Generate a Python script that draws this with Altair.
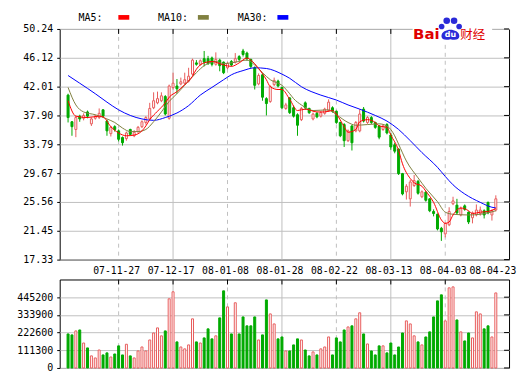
import altair as alt
import pandas as pd

# ---------------- data ----------------
opens = [40.8, 37.0, 35.9, 37.8, 37.5, 38.4, 36.7, 37.5, 37.6, 38.7,
         37.1, 35.3, 36.3, 35.7, 34.75, 34.6, 35.9, 35.0, 35.6, 36.3,
         36.9, 37.4, 39.0, 39.7, 40.0, 40.6, 37.5, 41.9, 42.1, 42.4,
         42.5, 42.8, 43.8, 45.4, 45.2, 46.0, 46.0, 46.1, 45.2, 45.8,
         45.5, 44.7, 45.6, 45.5, 46.3, 47.1, 46.8, 45.9, 44.7, 42.4,
         43.7, 40.3, 39.9, 42.3, 42.8, 41.9, 38.9, 40.4, 39.0, 38.0,
         37.3, 39.7, 38.9, 37.4, 38.2, 37.8, 38.2, 38.6, 39.0, 38.5,
         36.9, 36.6, 34.3, 36.4, 35.7, 35.7, 38.8, 36.9, 37.6, 36.9,
         36.4, 35.9, 36.6, 35.1, 33.7, 33.1, 29.6, 27.0, 26.0, 27.9,
         28.5, 26.3, 26.95, 26.0, 24.2, 23.8, 21.8, 21.0, 22.3, 25.3,
         25.1, 23.7, 25.0, 24.1, 23.3, 23.7, 23.9, 24.3, 25.5, 23.7,
         24.4]
highs = [41.0, 37.1, 37.8, 38.0, 38.2, 38.6, 37.6, 38.0, 38.9, 38.8,
         37.3, 36.4, 36.5, 35.9, 34.9, 35.6, 36.0, 35.8, 36.4, 37.2,
         37.8, 39.7, 41.2, 41.3, 41.2, 40.8, 42.3, 44.0, 43.1, 43.3,
         44.0, 44.7, 46.0, 45.8, 45.9, 47.1, 46.4, 46.3, 46.9, 46.0,
         45.6, 45.5, 45.8, 46.8, 46.5, 47.4, 47.0, 46.0, 44.9, 43.9,
         43.9, 40.5, 42.2, 43.3, 43.0, 42.0, 39.7, 40.5, 39.3, 38.2,
         39.1, 39.9, 39.0, 38.3, 38.4, 38.5, 39.0, 40.2, 39.2, 38.6,
         37.0, 36.8, 35.9, 36.5, 37.1, 38.8, 39.1, 37.8, 37.8, 37.0,
         36.5, 36.6, 36.8, 35.4, 34.0, 33.2, 29.7, 28.1, 28.7, 29.4,
         28.7, 27.2, 27.1, 26.1, 24.5, 23.9, 22.0, 22.6, 24.8, 26.3,
         26.0, 24.9, 25.2, 24.2, 24.2, 25.2, 24.9, 24.5, 25.6, 24.5,
         26.5]
lows = [36.9, 35.0, 34.8, 37.0, 37.2, 37.5, 36.4, 37.3, 37.4, 37.6,
        35.0, 34.9, 35.6, 34.2, 33.6, 34.3, 35.0, 34.8, 35.4, 36.1,
        36.6, 37.3, 38.8, 39.5, 39.8, 37.9, 37.3, 41.6, 41.0, 42.2,
        42.3, 42.6, 43.6, 45.0, 45.0, 44.9, 45.1, 44.9, 45.0, 44.2,
        43.8, 44.5, 44.9, 45.3, 45.6, 46.3, 45.7, 44.6, 41.6, 42.2,
        40.0, 37.9, 39.7, 42.1, 41.9, 38.8, 38.7, 38.1, 37.6, 35.0,
        37.1, 38.7, 38.1, 37.2, 37.5, 37.6, 38.0, 38.4, 38.3, 36.7,
        34.8, 33.4, 34.1, 32.9, 35.5, 35.5, 36.9, 36.7, 36.7, 36.0,
        34.5, 35.7, 35.2, 33.0, 32.5, 29.4, 26.5, 25.9, 24.9, 27.7,
        26.6, 26.1, 25.6, 24.1, 23.5, 21.5, 20.0, 20.5, 22.1, 25.1,
        23.8, 23.5, 24.3, 22.4, 22.5, 23.5, 23.6, 23.2, 23.8, 22.9,
        24.2]
closes = [37.6, 36.3, 37.6, 37.4, 37.9, 37.8, 37.4, 37.8, 38.2, 37.8,
          35.7, 36.2, 35.9, 34.5, 34.0, 35.4, 35.2, 35.5, 36.2, 37.0,
          37.6, 38.9, 40.0, 40.3, 40.7, 38.1, 42.1, 42.5, 41.7, 42.7,
          43.0, 43.5, 45.8, 45.2, 45.7, 45.5, 45.3, 45.2, 45.9, 45.0,
          44.0, 45.3, 45.1, 46.0, 45.9, 46.6, 46.0, 44.9, 42.2, 43.6,
          40.5, 39.6, 42.0, 42.9, 42.1, 39.0, 39.4, 38.3, 37.8, 36.5,
          38.9, 39.0, 38.3, 38.1, 37.7, 38.3, 38.8, 39.8, 38.5, 36.9,
          35.0, 34.3, 35.7, 34.0, 36.9, 38.1, 37.1, 37.6, 36.9, 36.2,
          34.8, 36.4, 35.4, 33.4, 32.8, 29.6, 26.7, 27.8, 28.4, 28.6,
          26.8, 27.0, 25.8, 24.3, 23.9, 21.7, 21.3, 22.5, 24.2, 25.7,
          24.0, 24.6, 24.5, 22.7, 24.0, 24.4, 24.4, 23.7, 24.0, 24.3,
          26.0]
volumes = [214000, 208000, 233000, 239000, 157000, 126000, 76000, 63000, 113000, 82000,
           95000, 69000, 88000, 139000, 82000, 149000, 76000, 63000, 107000, 132000,
           107000, 176000, 220000, 252000, 202000, 233000, 435000, 479000, 164000, 132000,
           120000, 145000, 309000, 164000, 157000, 189000, 246000, 183000, 202000, 315000,
           485000, 384000, 214000, 410000, 214000, 321000, 265000, 265000, 321000, 176000,
           208000, 428000, 340000, 277000, 183000, 195000, 107000, 107000, 145000, 183000,
           176000, 113000, 76000, 101000, 82000, 120000, 132000, 195000, 82000, 189000,
           164000, 239000, 258000, 265000, 309000, 347000, 214000, 151000, 107000, 82000,
           139000, 139000, 95000, 157000, 82000, 132000, 220000, 296000, 277000, 202000,
           164000, 145000, 195000, 227000, 321000, 422000, 460000, 296000, 504000, 510000,
           302000, 227000, 170000, 220000, 189000, 353000, 340000, 246000, 265000, 195000,
           472000]

ma5_idx = [0, 2, 5, 8, 9, 11, 13, 15, 17, 19, 20, 21, 23, 25, 26, 28, 30, 32, 33, 35,
           37, 40, 42, 44, 46, 47, 49, 51, 52, 54, 55, 57, 59, 61, 64, 66, 68, 69, 71, 72,
           74, 75, 77, 79, 80, 82, 83, 85, 86, 88, 89, 91, 92, 94, 96, 97, 98, 99, 101, 103,
           104, 106, 108, 110]
ma5_val = [40.0, 37.8, 37.6, 37.8, 37.7, 36.3, 35.4, 35.0, 35.1, 35.7, 36.4, 37.3, 38.5, 39.7, 40.5,
           41.3, 42.3, 43.5, 44.5, 45.4, 45.6, 45.1, 44.9, 45.4, 46.1, 45.8, 44.6, 43.0, 42.0, 41.6,
           41.6, 40.2, 38.6, 38.8, 38.4, 38.4, 38.6, 38.1, 36.3, 35.5, 35.9, 37.0, 37.3, 36.9, 36.4,
           36.2, 35.1, 32.9, 31.0, 28.9, 28.3, 27.8, 27.1, 25.5, 23.0, 22.5, 22.7, 23.7, 24.7, 24.3,
           23.9, 24.1, 24.2, 24.6]
ma10_idx = [0, 2, 4, 7, 10, 12, 14, 16, 18, 20, 22, 24, 26, 28, 30, 33, 35, 38, 40, 43,
            46, 48, 50, 52, 55, 57, 58, 60, 63, 67, 69, 72, 74, 77, 80, 82, 84, 85, 87, 90,
            92, 95, 97, 99, 103, 106, 110]
ma10_val = [41.9, 39.4, 38.4, 38.0, 37.4, 36.9, 36.1, 35.6, 35.6, 35.9, 37.0, 38.4, 39.9, 41.0, 42.2,
            44.0, 45.0, 45.6, 45.3, 45.5, 45.8, 45.1, 44.0, 43.0, 42.2, 41.0, 40.3, 39.4, 38.6, 38.7,
            38.0, 36.9, 36.5, 36.6, 36.7, 36.4, 35.0, 33.8, 31.4, 29.0, 27.5, 25.6, 24.1, 23.8, 23.7,
            23.8, 24.3]
ma30_idx = [0, 3, 7, 10, 13, 16, 19, 22, 25, 28, 31, 34, 37, 40, 42, 45, 48, 51, 55, 57,
            60, 65, 69, 72, 75, 79, 82, 85, 88, 91, 95, 97, 99, 102, 106, 109, 110]
ma30_val = [43.6, 42.5, 41.0, 39.8, 38.7, 37.9, 37.4, 37.2, 37.6, 38.25, 39.3, 40.8, 41.9, 43.0, 43.7,
            44.3, 44.7, 44.6, 43.8, 43.2, 42.0, 40.8, 40.1, 39.4, 38.8, 37.9, 37.1, 35.9, 34.3, 32.6,
            30.5, 29.2, 28.0, 26.7, 25.5, 24.8, 24.7]

date_idx = [13, 27, 41, 55, 69, 83, 97, 110]
date_labels = ["07-11-27", "07-12-17", "08-01-08", "08-01-28",
               "08-02-22", "08-03-13", "08-04-03", "08-04-23"]
dashed_grid_idx = [13, 41, 69, 97]
solid_grid_idx = [27, 55, 83]
price_ticks = [17.33, 21.45, 25.56, 29.67, 33.79, 37.90, 42.01, 46.12, 50.24]
volume_ticks = [0, 111300, 222600, 333900, 445200]
legend_names = ["MA5:", "MA10:", "MA30:"]

# ---------------- styles ----------------
UP = "#e85c5c"
DOWN = "#00aa00"
GRID = "#c0c0c0"
MONO = "DejaVu Sans Mono"
MA_COLORS = ["#ff0000", "#808040", "#0000ff"]
LOGO_RED = "#e00000"
LOGO_BLUE = "#2a2ad8"

n = len(closes)
df = pd.DataFrame({"i": list(range(n)), "open": opens, "high": highs,
                   "low": lows, "close": closes, "volume": volumes})
df["dir"] = ["up" if c >= o else "down" for o, c in zip(opens, closes)]

label_map = "{" + ",".join(f"'{i}':'{l}'" for i, l in zip(date_idx, date_labels)) + "}"

xscale = alt.Scale(domain=[-0.875, 112.125], nice=False, zero=False)
x_axis = alt.Axis(values=date_idx, labelExpr=label_map + "[datum.value]", grid=False,
                  ticks=False, domain=False, labelPadding=6, labelOverlap=False,
                  labelFlush=False, title=None, labelFontSize=9.8,
                  labelOffset={"condition": {"test": "datum.value == 110", "value": -3.5},
                               "value": -2.5})
XP = alt.X("i:Q", scale=xscale, axis=x_axis)
XV = alt.X("i:Q", scale=xscale, axis=None)

pscale = alt.Scale(domain=[17.33, 50.24], nice=False, zero=False)
p_axis = alt.Axis(values=price_ticks, format=".2f", grid=True, gridColor=GRID,
                  tickSize=3, tickColor="black", domain=False, labelPadding=4, title=None)


def YP(field):
    return alt.Y(f"{field}:Q", scale=pscale, axis=p_axis)


vscale = alt.Scale(domain=[0, 556500], nice=False, zero=True)
v_axis = alt.Axis(values=volume_ticks, format="d", grid=True, gridColor=GRID,
                  tickSize=3, tickColor="black", domain=False, labelPadding=4, title=None)
YV = alt.Y("volume:Q", scale=vscale, axis=v_axis)

stroke_dir = alt.Stroke("dir:N", scale=alt.Scale(domain=["up", "down"], range=[UP, DOWN]), legend=None)
fill_dir = alt.Fill("dir:N", scale=alt.Scale(domain=["up", "down"], range=["white", DOWN]), legend=None)

grid_d = pd.DataFrame({"i": dashed_grid_idx})
grid_s = pd.DataFrame({"i": solid_grid_idx})
grid_all = pd.DataFrame({"i": dashed_grid_idx + solid_grid_idx})


def grid_layers(X):
    return [
        alt.Chart(grid_d).mark_rule(color=GRID, strokeDash=[4, 4], strokeWidth=1).encode(x=X),
        alt.Chart(grid_s).mark_rule(color=GRID, strokeWidth=1).encode(x=X),
        alt.Chart(grid_all).mark_rule(color="black", strokeWidth=1).encode(
            x=X, y=alt.value(0), y2=alt.value(5)),
    ]


# ---------------- price panel ----------------
right_ticks_p = alt.Chart(pd.DataFrame({"v": price_ticks})).mark_rule(color="black").encode(
    y=YP("v"), x=alt.value(447), x2=alt.value(452))

wicks = alt.Chart(df).mark_rule(strokeWidth=1).encode(x=XP, y=YP("low"), y2="high", stroke=stroke_dir)
bodies = alt.Chart(df).mark_bar(size=2, strokeWidth=1).encode(
    x=XP, y=YP("open"), y2="close", fill=fill_dir, stroke=stroke_dir)

ma_layers = []
for idx, vals, col in [(ma30_idx, ma30_val, MA_COLORS[2]),
                       (ma10_idx, ma10_val, MA_COLORS[1]),
                       (ma5_idx, ma5_val, MA_COLORS[0])]:
    ma_layers.append(
        alt.Chart(pd.DataFrame({"i": idx, "ma": vals})).mark_line(
            color=col, strokeWidth=1, interpolate="monotone").encode(x=XP, y=YP("ma")))

legend_layers = []
for k, (name, col) in enumerate(zip(legend_names, MA_COLORS)):
    legend_layers.append(
        alt.Chart(pd.DataFrame({"t": [name]})).mark_text(
            align="left", baseline="middle", font=MONO, fontSize=10, color="black").encode(
            text="t:N", x=alt.value(19 + 80 * k), y=alt.value(-11.3)))
    legend_layers.append(
        alt.Chart(pd.DataFrame({"t": [name]})).mark_rect(color=col).encode(
            x=alt.value(59 + 80 * k), x2=alt.value(70 + 80 * k),
            y=alt.value(-14), y2=alt.value(-9.3)))

one = pd.DataFrame({"t": ["Baidu"]})
logo_bg = alt.Chart(one).mark_rect(color="white").encode(
    x=alt.value(355), x2=alt.value(435), y=alt.value(-3), y2=alt.value(12))
logo_bai = alt.Chart(pd.DataFrame({"t": ["Bai"]})).mark_text(
    align="left", baseline="alphabetic", font="DejaVu Sans", fontWeight="bold",
    fontSize=15, color=LOGO_RED).encode(text="t:N", x=alt.value(355.5), y=alt.value(10.3))
toe_layers = []
for tx, ty, ts in [(389.3, -8.3, 44), (396.7, -8.3, 44), (384.2, -2.5, 32), (401.8, -2.5, 32)]:
    toe_layers.append(alt.Chart(one).mark_point(
        filled=True, color=LOGO_BLUE, opacity=1, shape="circle", size=ts, strokeWidth=0).encode(
        x=alt.value(tx), y=alt.value(ty)))
palm = alt.Chart(one).mark_point(
    filled=True, color=LOGO_BLUE, opacity=1, size=324, strokeWidth=0,
    shape="M-1,0.15C-1,-0.35 -0.45,-0.58 0,-0.58C0.45,-0.58 1,-0.35 1,0.15C1,0.55 0.5,0.62 0,0.48C-0.5,0.62 -1,0.55 -1,0.15Z").encode(
    x=alt.value(393), y=alt.value(6))
logo_du = alt.Chart(pd.DataFrame({"t": ["du"]})).mark_text(
    align="center", baseline="middle", font="DejaVu Sans", fontWeight="bold",
    fontSize=8, color="white").encode(text="t:N", x=alt.value(393), y=alt.value(6.5))
logo_cj = alt.Chart(pd.DataFrame({"t": ["财经"]})).mark_text(
    align="left", baseline="middle", font="Noto Sans CJK SC", fontSize=12.5,
    color=LOGO_RED).encode(text="t:N", x=alt.value(403), y=alt.value(6))

price = alt.layer(
    *grid_layers(XP), right_ticks_p, wicks, bodies, *ma_layers, *legend_layers,
    logo_bg, logo_bai, *toe_layers, palm, logo_du, logo_cj
).properties(width=452, height=232)

# ---------------- volume panel ----------------
right_ticks_v = alt.Chart(pd.DataFrame({"volume": volume_ticks})).mark_rule(color="black").encode(
    y=YV, x=alt.value(447), x2=alt.value(452))
vol_bars = alt.Chart(df).mark_bar(size=2, strokeWidth=1).encode(
    x=XV, y=YV, y2=alt.datum(0), fill=fill_dir, stroke=stroke_dir)

volume = alt.layer(*grid_layers(XV), right_ticks_v, vol_bars).properties(width=452, height=89)

chart = alt.vconcat(price, volume, spacing=20, bounds="flush").properties(
    padding={"left": 8, "top": 3, "right": 0, "bottom": 2},
    background="white"
).configure_view(stroke="black", strokeWidth=1).configure_axis(
    labelFont=MONO, labelFontSize=10, labelColor="black")

chart.save("out.html", embed_options={"renderer": "svg", "actions": False})
